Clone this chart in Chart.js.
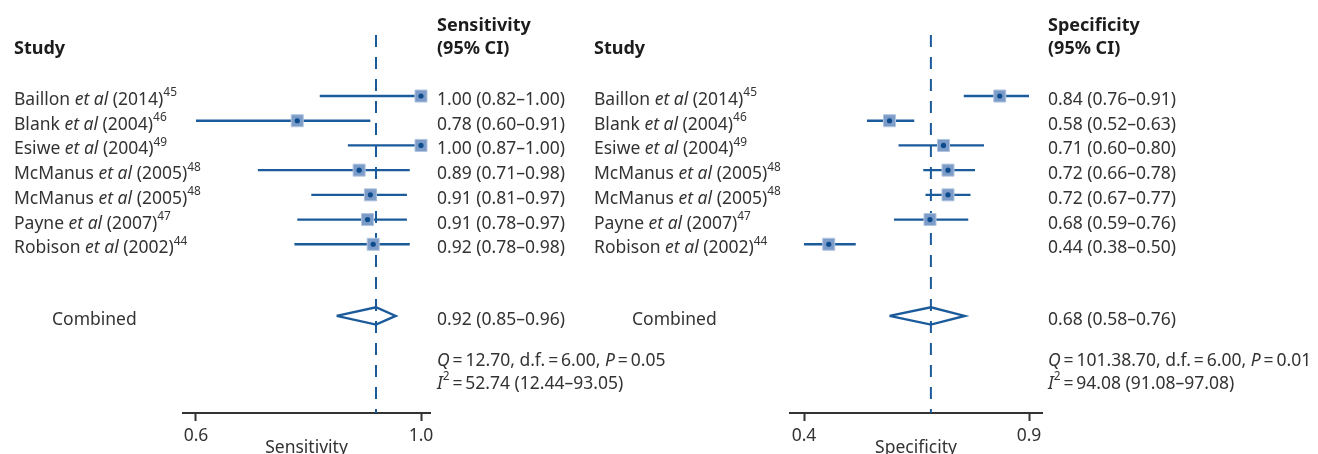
<!DOCTYPE html>
<html>
<head>
<meta charset="utf-8">
<script src="https://cdn.jsdelivr.net/npm/chart.js@4.4.1/dist/chart.umd.min.js"></script>
<style>
  body { margin: 0; background: #fff; }
  #wrap { position: relative; width: 1318px; height: 454px; overflow: hidden; font-family: 'Noto Sans', sans-serif; color: #333; }
  canvas { position: absolute; top: 0; }
  #sensChart { left: 0; }
  #specChart { left: 590px; }
  .t { position: absolute; font-size: 17.5px; line-height: 20px; white-space: nowrap; }
  .h { font-weight: bold; font-size: 18px; color: #1c1c1c; }
  .t sup { font-size: 0.68em; line-height: 0; position: relative; top: -0.15em; vertical-align: super; }
</style>
</head>
<body>
<div id="wrap">
  <canvas id="sensChart" width="590" height="454"></canvas>
  <canvas id="specChart" width="728" height="454"></canvas>
</div>
<script>
// studies
const studyNames = ['Baillon', 'Blank', 'Esiwe', 'McManus', 'McManus', 'Payne', 'Robison'];
const studyYears = ['2014', '2004', '2004', '2005', '2005', '2007', '2002'];
const studyRefs = ['45', '46', '49', '48', '48', '47', '44'];

// sensitivity, as drawn
const sensEst = [1.00, 0.78, 1.00, 0.89, 0.91, 0.905, 0.915];
const sensLo = [0.82, 0.60, 0.87, 0.71, 0.805, 0.78, 0.775];
const sensHi = [1.00, 0.91, 1.00, 0.98, 0.975, 0.975, 0.98];
const sensCombined = [0.92, 0.85, 0.955]; // estimate, low, high
const sensText = ['1.00 (0.82–1.00)', '0.78 (0.60–0.91)', '1.00 (0.87–1.00)', '0.89 (0.71–0.98)',
                  '0.91 (0.81–0.97)', '0.91 (0.78–0.97)', '0.92 (0.78–0.98)'];
const sensCombinedText = '0.92 (0.85–0.96)';
const sensTicks = [0.6, 1.0];

// specificity, as drawn
const specEst = [0.835, 0.59, 0.71, 0.72, 0.72, 0.68, 0.455];
const specLo = [0.755, 0.54, 0.61, 0.665, 0.67, 0.60, 0.40];
const specHi = [0.90, 0.645, 0.80, 0.78, 0.77, 0.765, 0.515];
const specCombined = [0.682, 0.59, 0.757];
const specText = ['0.84 (0.76–0.91)', '0.58 (0.52–0.63)', '0.71 (0.60–0.80)', '0.72 (0.66–0.78)',
                  '0.72 (0.67–0.77)', '0.68 (0.59–0.76)', '0.44 (0.38–0.50)'];
const specCombinedText = '0.68 (0.58–0.76)';
const specTicks = [0.4, 0.9];

const sensStats = ['<i>Q</i>\u2009=\u200912.70, d.f.\u2009=\u20096.00, <i>P</i>\u2009=\u20090.05',
                   '<i>I</i><sup>2</sup>\u2009=\u200952.74 (12.44–93.05)'];
const specStats = ['<i>Q</i>\u2009=\u2009101.38.70, d.f.\u2009=\u20096.00, <i>P</i>\u2009=\u20090.01',
                   '<i>I</i><sup>2</sup>\u2009=\u200994.08 (91.08–97.08)'];

// row layout (rows 0..6, combined row below)
const rowTop = -2.47;
const rowBottom = 12.83;
const combinedRow = 8.9;
const diamondHalf = 0.35;

const blue = '#1b5b9b';

Chart.defaults.font.family = "'Noto Sans', sans-serif";

function forestChart(id, est, lo, hi, comb, ticks, axisMin, axisMax, padLeft, padRight, title) {
    var ciLines = [];
    est.forEach((v, i) => {
        ciLines.push({x: lo[i], y: i}, {x: hi[i], y: i}, {x: null, y: null});
    });
    var boxes = est.map((v, i) => ({x: v, y: i}));
    var diamond = [
        {x: comb[1], y: combinedRow},
        {x: comb[0], y: combinedRow - diamondHalf},
        {x: comb[2], y: combinedRow},
        {x: comb[0], y: combinedRow + diamondHalf},
        {x: comb[1], y: combinedRow}
    ];
    var refLine = [{x: comb[0], y: rowTop}, {x: comb[0], y: rowBottom}];

    // first dataset is painted last (on top)
    return new Chart(id, {
        type: 'scatter',
        data: {
            datasets: [
                {data: boxes, pointStyle: 'circle', pointRadius: 2.6, backgroundColor: '#0c4b8c', borderWidth: 0},
                {data: boxes, pointStyle: 'rect', pointRadius: 8.5, backgroundColor: '#7b9bc8', borderColor: '#b3c5df', borderWidth: 1},
                {data: diamond, showLine: true, borderColor: blue, borderWidth: 2.4, pointRadius: 0, fill: false},
                {data: ciLines, showLine: true, borderColor: blue, borderWidth: 2.3, pointRadius: 0, spanGaps: false},
                {data: refLine, showLine: true, borderColor: blue, borderWidth: 2, borderDash: [12, 10], pointRadius: 0}
            ]
        },
        options: {
            responsive: false,
            animation: false,
            layout: {padding: {left: padLeft, right: padRight, top: 35, bottom: 0}},
            plugins: {legend: {display: false}, tooltip: {enabled: false}},
            scales: {
                x: {
                    type: 'linear',
                    min: axisMin,
                    max: axisMax,
                    afterBuildTicks: s => { s.ticks = ticks.map(v => ({value: v})); },
                    afterFit: s => { s.height = 41; },
                    border: {color: '#333', width: 2},
                    grid: {drawOnChartArea: false, drawTicks: true, tickLength: 8, tickWidth: 2, tickColor: '#333', color: '#333'},
                    ticks: {padding: 5, color: '#333', font: {size: 17.5}, callback: v => v.toFixed(1)},
                    title: {display: true, text: title, color: '#333', font: {size: 17.5, lineHeight: 1}, padding: {top: 0, bottom: -3}}
                },
                y: {type: 'linear', display: false, reverse: true, min: rowTop, max: rowBottom}
            }
        }
    });
}

// left: 0.6 -> 196px, 1.0 -> 421px ; axis 183..430
const sensChart = forestChart('sensChart', sensEst, sensLo, sensHi, sensCombined, sensTicks,
    0.6 - 13 / 562.5, 1.0 + 9 / 562.5, 183, 590 - 430, 'Sensitivity');
// right: 0.4 -> 804px, 0.9 -> 1029px ; axis 790..1042 (canvas starts at 590)
const specChart = forestChart('specChart', specEst, specLo, specHi, specCombined, specTicks,
    0.4 - 14 / 450, 0.9 + 13 / 450, 200, 728 - 452, 'Specificity');

const wrap = document.getElementById('wrap');

function addText(html, left, centerY, cls) {
    var d = document.createElement('div');
    d.className = 't' + (cls ? ' ' + cls : '');
    d.innerHTML = html;
    d.style.left = left + 'px';
    d.style.top = (centerY - 10) + 'px';
    wrap.appendChild(d);
}

function buildTable(chart, studyX, valueX, combinedX, header, values, combinedText, stats) {
    var y = chart.scales.y;
    addText('Study', studyX, 47, 'h');
    addText(header, valueX, 24, 'h');
    addText('(95% CI)', valueX, 47, 'h');
    studyNames.forEach((name, i) => {
        var py = y.getPixelForValue(i) + 2;
        addText(name + ' <i>et al</i> (' + studyYears[i] + ')<sup>' + studyRefs[i] + '</sup>', studyX, py);
        addText(values[i], valueX, py);
    });
    var cy = y.getPixelForValue(combinedRow) + 2;
    addText('Combined', combinedX, cy);
    addText(combinedText, valueX, cy);
    addText(stats[0], valueX, 359);
    addText(stats[1], valueX, 382);
}

buildTable(sensChart, 14, 437, 52, 'Sensitivity', sensText, sensCombinedText, sensStats);
buildTable(specChart, 594, 1048, 632, 'Specificity', specText, specCombinedText, specStats);
</script>
</body>
</html>
